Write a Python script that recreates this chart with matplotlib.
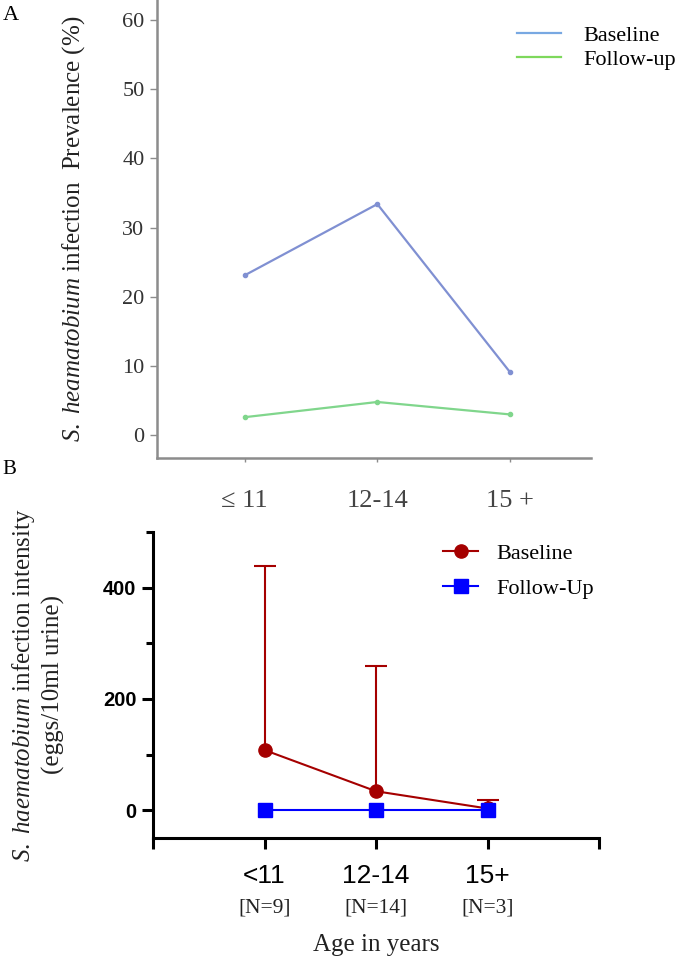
import matplotlib
matplotlib.use("Agg")
import matplotlib.pyplot as plt
from matplotlib.lines import Line2D

plt.rcParams["font.family"] = ["Liberation Serif", "DejaVu Serif"]
plt.rcParams["mathtext.fontset"] = "custom"
plt.rcParams["mathtext.rm"] = "Liberation Serif"
plt.rcParams["mathtext.it"] = "Liberation Serif:italic"

# panel A: prevalence (%)
age_a = ["\u2264 11", "12-14", "15 +"]
prev_baseline = [23.1, 33.4, 9.1]
prev_followup = [2.6, 4.8, 3.0]

# panel B: intensity (eggs/10ml urine)
age_b = ["<11", "12-14", "15+"]
n_labels = ["[N=9]", "[N=14]", "[N=3]"]
int_baseline = [108, 34, 3]
int_baseline_upper = [438, 259, 19]
int_followup = [0, 0, 0]

fig = plt.figure(figsize=(6.77, 9.6), dpi=100)

# ---- panel A
blue_a = "#8090d2"
green_a = "#80d68c"
grey = "#8c8c8c"

ax1 = fig.add_axes([0.2319, 0.5229, 0.6411, 0.4771])
xa = list(range(len(age_a)))
ax1.plot(xa, prev_baseline, color=blue_a, lw=1.6, marker="o", ms=3)
ax1.plot(xa, prev_followup, color=green_a, lw=1.6, marker="o", ms=3)
ax1.set_xlim(-0.66, 2.61)
ax1.set_ylim(-3.3, 62.9)
ax1.set_yticks(range(0, 61, 10))
ax1.set_xticks(xa)
ax1.set_xticklabels(age_a, fontsize=19, color="#444444")
for s in ["top", "right"]:
    ax1.spines[s].set_visible(False)
for s in ["left", "bottom"]:
    ax1.spines[s].set_color(grey)
    ax1.spines[s].set_linewidth(1.8)
ax1.tick_params(axis="y", length=5, width=1, color=grey, labelsize=16,
                labelcolor="#333333", pad=4)
ax1.tick_params(axis="x", length=3, width=1, color=grey, pad=20)
ax1.set_ylabel(r"$S.\ heamatobium$ infection  Prevalence (%)", fontsize=18,
               color="#222222")
ax1.yaxis.set_label_coords(-0.161, 0.5)

handles_a = [Line2D([], [], color="#78a8e2", lw=1.6),
             Line2D([], [], color="#7ed85c", lw=1.6)]
ax1.legend(handles_a, ["Baseline", "Follow-up"], loc="upper left",
           bbox_to_anchor=(0.829, 0.945), frameon=False, fontsize=16,
           handlelength=2.0, handletextpad=1.0, labelspacing=0.15,
           borderpad=0, borderaxespad=0)

fig.text(0.004, 0.984, "A", fontsize=16, va="center")

# ---- panel B
red = "#a50000"
blue = "#0000ff"

ax2 = fig.add_axes([0.226, 0.1271, 0.6588, 0.3188])
xb = list(range(len(age_b)))
# upper-only error bars: stem from mean to upper, cap at upper
ax2.vlines(xb, int_baseline, int_baseline_upper, color=red, lw=1.5, zorder=1)
ax2.plot(xb, int_baseline_upper, ls="none", marker="_", ms=16, mew=1.5,
         color=red, zorder=1)
ax2.plot(xb, int_baseline, color=red, lw=1.5, marker="o", ms=9.5, zorder=2)
ax2.plot(xb, int_followup, color=blue, lw=1.5, marker="s", ms=9.5, zorder=3)
ax2.set_xlim(-1, 3)
ax2.set_ylim(-50, 500)
ax2.set_yticks([0, 200, 400])
ax2.set_yticks([100, 300, 500], minor=True)
ax2.set_xticks([-1, 0, 1, 2, 3])
ax2.set_xticklabels([""] + age_b + [""], fontsize=19,
                    fontfamily="Liberation Sans")
for lab in ax2.get_yticklabels():
    lab.set_fontfamily("Liberation Sans")
    lab.set_fontweight("bold")
    lab.set_fontsize(14.5)
for s in ["top", "right"]:
    ax2.spines[s].set_visible(False)
for s in ["left", "bottom"]:
    ax2.spines[s].set_linewidth(2.2)
ax2.tick_params(axis="both", which="major", length=8, width=2.2)
ax2.tick_params(axis="y", which="minor", length=5, width=2.2)
ax2.tick_params(axis="x", pad=11)
ax2.tick_params(axis="y", pad=4)

for x, n in zip(xb, n_labels):
    ax2.text(x, -0.23, n, transform=ax2.get_xaxis_transform(), ha="center",
             va="center", fontsize=15.5, color="#222222")
ax2.text(0.5, -0.35, "Age in years", transform=ax2.transAxes, ha="center",
         va="center", fontsize=18, color="#222222")

ax2.set_ylabel("$S.\\ haematobium$ infection intensity\n(eggs/10ml urine)",
               fontsize=18, linespacing=1.3, color="#222222")
ax2.yaxis.set_label_coords(-0.197, 0.5)

handles_b = [Line2D([], [], color=red, lw=1.5, marker="o", ms=9.5),
             Line2D([], [], color=blue, lw=1.5, marker="s", ms=9.5)]
ax2.legend(handles_b, ["Baseline", "Follow-Up"], loc="upper left",
           bbox_to_anchor=(0.65, 0.962), frameon=False,
           fontsize=16, handlelength=1.6, handletextpad=0.8,
           labelspacing=0.65, borderpad=0, borderaxespad=0)

fig.text(0.003, 0.511, "B", fontsize=15, va="center")

fig.savefig("out.png", dpi=100)
